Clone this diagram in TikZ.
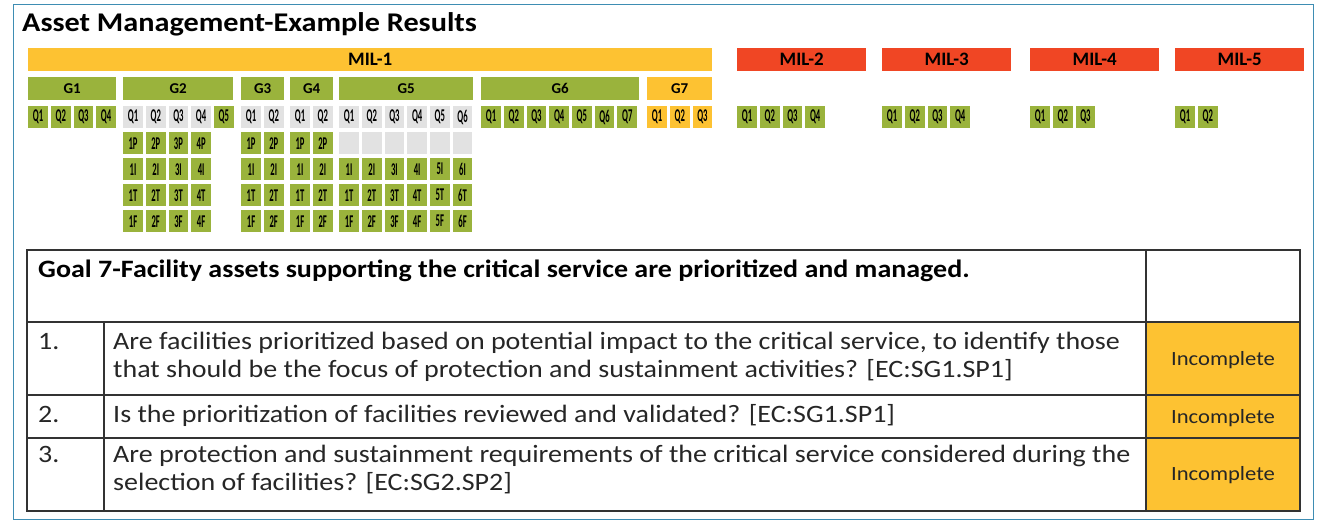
\documentclass[tikz,border=0pt]{standalone}
\usepackage{fontspec}
\setmainfont{Carlito}[FakeStretch=1.12]
\newfontfamily\barfont{Carlito}
\definecolor{gold}{HTML}{FDC232}
\definecolor{flame}{HTML}{F04624}
\definecolor{leaf}{HTML}{9AB33C}
\definecolor{blank}{HTML}{E2E2E2}
\definecolor{edge}{HTML}{3E8DB3}
\definecolor{rule}{HTML}{333333}
\newcommand{\qlab}[1]{\scalebox{0.48}[1]{\bfseries #1}}
\begin{document}
\begin{tikzpicture}[x=1pt,y=-1pt,
    bar/.style={anchor=north west,minimum height=23pt,inner sep=0pt,font=\barfont\fontsize{19}{20}\selectfont\bfseries},
    gbar/.style={bar,fill=leaf,font=\barfont\fontsize{15}{16}\selectfont\bfseries},
    cell/.style={anchor=north west,minimum width=19.7pt,minimum height=22pt,inner sep=0pt,fill=leaf,font=\barfont\fontsize{18}{18}\selectfont},
    txt/.style={anchor=base west,inner sep=0pt,align=left,text=black!85,font=\fontsize{25}{28}\selectfont},
    verdict/.style={anchor=base,inner sep=0pt,text=black!85,font=\fontsize{20.2}{22}\selectfont}]
\useasboundingbox (0,0) rectangle (1319,523);
\draw[edge,line width=1.2pt] (13.5,4.5) rectangle (1313.5,519.5);
\node[anchor=base west,inner sep=0pt,font=\fontsize{27}{30}\selectfont\bfseries] (title) at (22,31) {Asset Management-Example Results};

% maturity levels
\node[bar,fill=gold,minimum width=684pt] (mil1) at (28,48) {MIL-1};
\foreach \m/\x in {2/737,3/882,4/1030,5/1175}
   \node[bar,fill=flame,minimum width=129pt] (mil\m) at (\x,48) {MIL-\m};

% goals
\foreach \g/\x/\w in {1/28/88,2/123/110,3/241/43,4/290/43,5/339/134,6/481/158}
   \node[gbar,minimum width=\w pt] (g\g) at (\x,77) {G\g};
\node[gbar,fill=gold,minimum width=65pt] (g7) at (647,77) {G7};

% questions
\foreach \i in {1,...,4}
   \node[cell] (g1q\i) at ({28+(\i-1)*22.7},106) {\qlab{Q\i}};
\foreach \i in {1,...,4}
   \node[cell,fill=blank] (g2q\i) at ({123+(\i-1)*22.7},106) {\qlab{Q\i}};
\node[cell] (g2q5) at (213.8,106) {\qlab{Q5}};
\foreach [count=\r] \t in {P,I,T,F}
   \foreach \i in {1,...,4}
      \node[cell] (g2\t\i) at ({123+(\i-1)*22.7},{106+\r*26}) {\qlab{\i\t}};
\foreach \g/\x in {3/241,4/290} {
   \foreach \i in {1,2}
      \node[cell,fill=blank] (g\g q\i) at ({\x+(\i-1)*22.7},106) {\qlab{Q\i}};
   \foreach [count=\r] \t in {P,I,T,F}
      \foreach \i in {1,2}
         \node[cell] (g\g\t\i) at ({\x+(\i-1)*22.7},{106+\r*26}) {\qlab{\i\t}};
   }
\foreach \i in {1,...,6} {
   \node[cell,fill=blank] (g5q\i) at ({339+(\i-1)*22.7},106) {\qlab{Q\i}};
   \node[cell,fill=blank] (g5P\i) at ({339+(\i-1)*22.7},132) {};
   \foreach [count=\r from 2] \t in {I,T,F}
      \node[cell] (g5\t\i) at ({339+(\i-1)*22.7},{106+\r*26}) {\qlab{\i\t}};
   }
\foreach \i in {1,...,7}
   \node[cell] (g6q\i) at ({481+(\i-1)*22.7},106) {\qlab{Q\i}};
\foreach \i in {1,...,3}
   \node[cell,fill=gold] (g7q\i) at ({647+(\i-1)*22.7},106) {\qlab{Q\i}};
\foreach \m/\x/\k in {2/737/4,3/882/4,4/1030/3,5/1175/2}
   \foreach \i in {1,...,\k}
      \node[cell] (m\m q\i) at ({\x+(\i-1)*22.7},106) {\qlab{Q\i}};

% goal 7 table
\fill[gold] (1146,322) rectangle (1300,511);
\draw[rule,line width=1.2pt] (27,250) rectangle (1300,511)
   (27,322) -- (1300,322) (27,395) -- (1300,395) (27,438) -- (1300,438)
   (104,322) -- (104,511) (1146,250) -- (1146,511);
\node[txt,font=\fontsize{25}{28}\selectfont\bfseries,text=black] (goal) at (38,277) {Goal 7-Facility assets supporting the critical service are prioritized and managed.};
\foreach \n/\y in {1/349,2/422,3/462}
   \node[txt] (n\n) at (38,\y) {\n.};
\node[txt] (q1) at (113,377) {Are facilities prioritized based on potential impact to the critical service, to identify those\\that should be the focus of protection and sustainment activities? [EC:SG1.SP1]};
\node[txt] (q2) at (113,422) {Is the prioritization of facilities reviewed and validated? [EC:SG1.SP1]};
\node[txt] (q3) at (113,490) {Are protection and sustainment requirements of the critical service considered during the\\selection of facilities? [EC:SG2.SP2]};
\foreach \n/\y in {1/365,2/423,3/480}
   \node[verdict] (s\n) at (1223,\y) {Incomplete};
\end{tikzpicture}
\end{document}
